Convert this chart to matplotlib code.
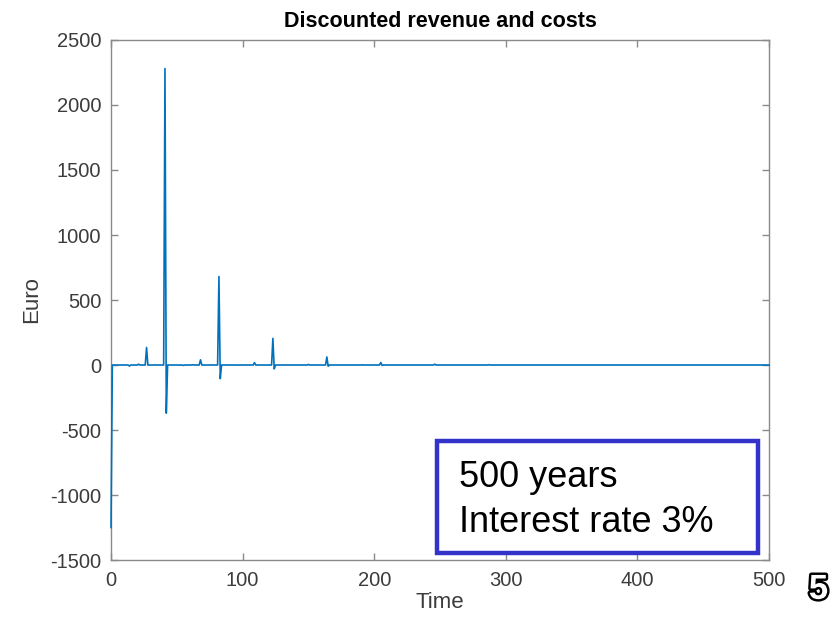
import numpy as np
import matplotlib.pyplot as plt
import matplotlib.patheffects as pe
from matplotlib.patches import Rectangle

plt.rcParams['font.family'] = ['Liberation Sans', 'DejaVu Sans']
plt.rcParams['axes.unicode_minus'] = False

# yearly cash flows (discounted), zero in all other years
event_years = [0, 14, 21, 27, 41, 42, 55, 62, 68, 82, 83, 96, 109, 123, 124,
               150, 164, 165, 191, 205, 206, 246, 287]
event_values = [-1250, -8, 6, 135, 2280, -370, -3, 2, 40, 680, -105, -1, 18, 205, -30,
                4, 62, -9, 1.5, 19, -3, 6, 2]

x_ticks = [0, 100, 200, 300, 400, 500]
y_ticks = [-1500, -1000, -500, 0, 500, 1000, 1500, 2000, 2500]

time = np.arange(0, 501)
cash = np.zeros(len(time))
cash[event_years] = event_values

fig = plt.figure(figsize=(8.36, 6.21), dpi=100)
ax = fig.add_axes([0.1328, 0.0982, 0.7871, 0.8374])

ax.plot(time, cash, color='#0072BD', linewidth=1.2, zorder=3, clip_on=False)
ax.set_xlim(0, 500)
ax.set_ylim(-1500, 2500)
ax.set_xticks(x_ticks)
ax.set_yticks(y_ticks)

axis_grey = '#8a8a8a'
for s in ax.spines.values():
    s.set_color(axis_grey)
    s.set_linewidth(1.0)
    s.set_zorder(2)
ax.tick_params(direction='in', length=5, width=1, colors=axis_grey,
               labelcolor='#3c3c3c', labelsize=14.5, top=True, right=True)
ax.tick_params(axis='x', pad=8)
ax.tick_params(axis='y', pad=7)

ax.set_title('Discounted revenue and costs', fontsize=15.5, fontweight='bold', pad=9)
ax.set_xlabel('Time', fontsize=16, color='#3c3c3c', labelpad=1)
ax.set_ylabel('Euro', fontsize=16, color='#3c3c3c', labelpad=6)

# annotation box in the lower right
box = Rectangle((0.5227, 0.1095), 0.384, 0.1804, transform=fig.transFigure,
                fill=False, edgecolor='#3333CC', linewidth=3.2, zorder=5)
fig.patches.append(box)
fig.text(0.549, 0.2155, '500 years', fontsize=26, color='black', va='baseline')
fig.text(0.549, 0.1430, 'Interest rate 3%', fontsize=26, color='black', va='baseline')

# slide number
fig.text(0.979, 0.051, '5', fontsize=25, fontweight='bold', color='white',
         ha='center', va='center',
         path_effects=[pe.withStroke(linewidth=3.5, foreground='black')])

fig.savefig('out.png', dpi=100)
